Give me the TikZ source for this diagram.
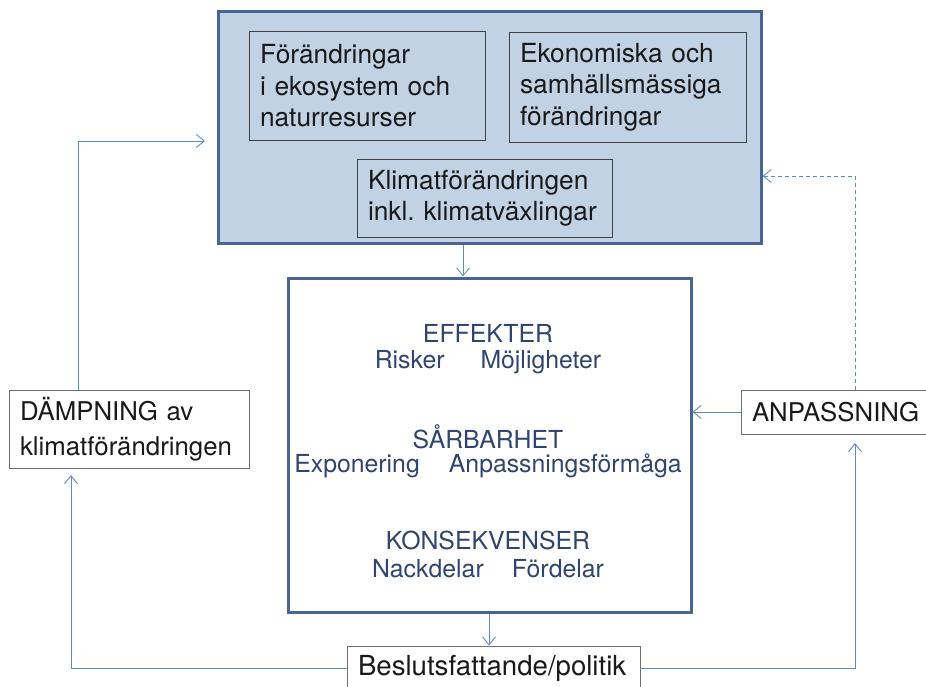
\documentclass[tikz,border=0pt]{standalone}
\usepackage{fontspec}
\setmainfont{TeX Gyre Heros}
\usetikzlibrary{arrows.meta}
\definecolor{boxfill}{RGB}{193,210,228}
\definecolor{boxedge}{RGB}{72,101,148}
\definecolor{navy}{RGB}{47,69,112}
\definecolor{conncol}{RGB}{91,140,200}
\definecolor{inneredge}{RGB}{64,64,64}
\definecolor{outeredge}{RGB}{110,110,110}
\tikzset{
  bigbox/.style={draw=boxedge, line width=3pt, rectangle, inner sep=0pt},
  innerbox/.style={draw=inneredge, line width=0.9pt, rectangle, inner xsep=11pt, inner ysep=0pt, align=left, font=\fontsize{26.3}{31.5}\selectfont\frenchspacing, text=black!90},
  sidebox/.style={draw=outeredge, line width=0.9pt, rectangle, inner xsep=11pt, inner ysep=0pt, align=left, font=\fontsize{25.8}{35}\selectfont, text=black!90},
  midtext/.style={font=\fontsize{24.8}{29}\selectfont, text=navy, inner sep=0pt},
  conn/.style={draw=conncol, line width=0.9pt, -{Straight Barb[length=8pt,width=13pt,line width=0.9pt]}},
  dashconn/.style={conn, dash pattern=on 4pt off 3pt}
}
\begin{document}
\begin{tikzpicture}[x=1pt,y=-1pt]
\useasboundingbox (0,0) rectangle (926,687);
% top big box
\node[bigbox, fill=boxfill, minimum width=543pt, minimum height=231pt] (big) at (489.5,127.5) {};
\node[innerbox, minimum width=236pt, minimum height=109pt, text width=214pt] (eko) at (367,86) {Förändringar\\i ekosystem och\\naturresurser};
\node[innerbox, minimum width=237pt, minimum height=110pt, text width=215pt] (soc) at (627.5,87) {Ekonomiska och\\samhällsmässiga\\förändringar};
\node[innerbox, minimum width=255pt, minimum height=78pt, text width=233pt] (klim) at (484.5,198) {\mbox{Klimatförändringen}\\\mbox{inkl. klimatväxlingar}};
% middle box
\node[bigbox, fill=white, minimum width=403pt, minimum height=334pt] (mid) at (489.5,445) {};
\node[midtext] (t1) at (488,333) {EFFEKTER};
\node[midtext] (t2) at (488,362) {Risker\hspace{36pt}Möjligheter};
\node[midtext] (t3) at (488,437) {SÅRBARHET};
\node[midtext] (t4) at (488,466) {Exponering\hspace{29pt}Anpassningsförmåga};
\node[midtext] (t5) at (488,540) {KONSEKVENSER};
\node[midtext] (t6) at (488,569) {Nackdelar\hspace{28pt}Fördelar};
% side boxes
\node[sidebox, minimum width=240pt, minimum height=78pt, text width=218pt] (damp) at (129,429) {DÄMPNING av\\klimatförändringen};
\node[sidebox, minimum width=200pt, minimum height=44pt, text width=178pt] (anp) at (841,412) {ANPASSNING};
\node[sidebox, minimum width=293pt, minimum height=44pt, text width=271pt, font=\fontsize{27.6}{35}\selectfont] (bes) at (493.5,668) {Beslutsfattande/politik};
% coordinates
\coordinate (x1) at (463,0);
\coordinate (x2) at (489,0);
\coordinate (dl) at (71,475);
\coordinate (dr) at (855,443);
\coordinate (du) at (78,141);
\coordinate (dt) at (205,141);
\coordinate (au) at (855,176);
% connectors
\draw[conn] (x1 |- big.south) -- (x1 |- mid.north);
\draw[conn] (x2 |- mid.south) -- (x2 |- bes.north);
\draw[conn] (bes.west) -- (bes.west -| dl) -- (dl);
\draw[conn] (bes.east) -- (bes.east -| dr) -- (dr);
\draw[conn] (damp.north -| du) -- (du) -- (dt);
\draw[dashconn] (anp.north -| au) -- (au) -- (au -| big.east);
\draw[conn] (anp.west) -- (anp.west -| mid.east);
\end{tikzpicture}
\end{document}
